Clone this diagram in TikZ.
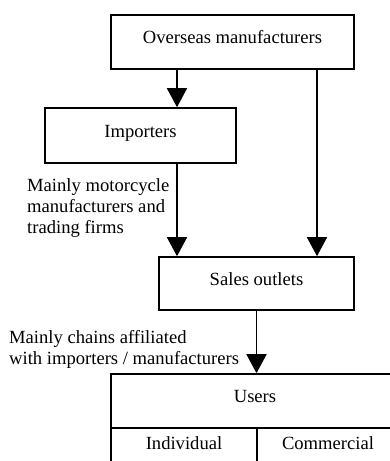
\documentclass[tikz,border=0pt]{standalone}
\usepackage{fontspec}
\setmainfont{Liberation Serif}
\usepackage{tikz}
\usetikzlibrary{positioning, calc, arrows.meta}
\tikzstyle{box}=[rectangle, draw=black, line width=1.6pt, inner sep=0pt, text height=13pt, text depth=10pt, text centered]
\tikzstyle{note}=[inner sep=0pt, align=left, anchor=north west]
\tikzstyle{arrow}=[line width=1.6pt, -{Triangle[width=20pt, length=19pt]}]

\begin{document}
\begin{tikzpicture}[x=1pt, y=-1pt, font=\fontsize{18.6}{21}\selectfont]
	\useasboundingbox (0, 0) rectangle (389, 461);

		\node[box, minimum width=243pt, minimum height=54pt] (overseas) at (232.5, 42) {Overseas manufacturers};
		\node[box, minimum width=191pt, minimum height=55pt] (importers) at (140.5, 135.5) {Importers};
		\node[box, minimum width=195pt, minimum height=53pt] (outlets) at (256.5, 283.5) {Sales outlets};
		\node[box, minimum width=288pt, minimum height=54pt] (users) at (255, 401) {Users};
		\node[box, minimum width=146pt, minimum height=39pt] (individual) at (184, 447.5) {Individual};
		\node[box, minimum width=142pt, minimum height=39pt] (commercial) at (328, 447.5) {Commercial};

		\node[note] (viaimporters) at (27, 178.3) {Mainly motorcycle\\manufacturers and\\trading firms};
		\node[note] (viachains) at (9, 329.8) {Mainly chains affiliated\\with importers / manufacturers};

		\coordinate (leftline) at (177, 0);
		\coordinate (rightline) at (317, 0);

		\draw[arrow] (overseas.south -| leftline) -- (importers.north -| leftline);
		\draw[arrow] (importers.south -| leftline) -- (outlets.north -| leftline);
		\draw[arrow] (overseas.south -| rightline) -- (outlets.north -| rightline);
		\draw[arrow] (outlets.south) -- (outlets.south |- users.north);
\end{tikzpicture}
\end{document}
